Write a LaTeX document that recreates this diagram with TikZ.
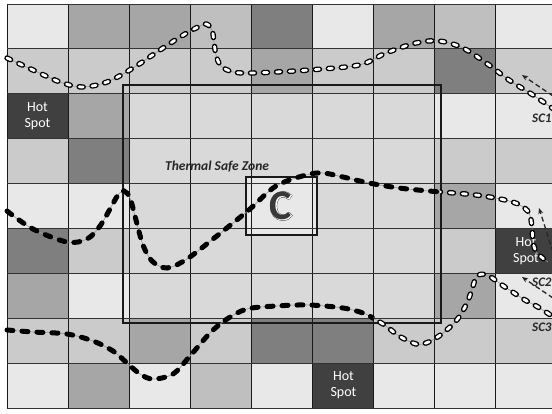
\documentclass[tikz,border=0pt]{standalone}
\usepackage{fontspec}
\setmainfont{Carlito}
\newfontfamily\cfontA[FakeBold=3.5]{Carlito}
\newfontfamily\cfontB[FakeBold=1.8]{Carlito}
\usetikzlibrary{arrows.meta}
\definecolor{cvl}{HTML}{E8E8E8}
\definecolor{clt}{HTML}{CBCBCB}
\definecolor{clm}{HTML}{BFBFBF}
\definecolor{cmd}{HTML}{A6A6A6}
\definecolor{cdk}{HTML}{7F7F7F}
\definecolor{chs}{HTML}{404040}
\definecolor{czn}{HTML}{D9D9D9}
\definecolor{gline}{HTML}{9A9A9A}
\tikzset{
  gridv/.style={draw=black!90, line width=0.9pt},
  gridh/.style={draw=black!80, line width=0.9pt},
  hstext/.style={text=white, align=center, font=\fontsize{14}{16}\selectfont, inner sep=0pt},
  zonebox/.style={draw=black!90, line width=1.3pt},
  cbox/.style={draw=black!90, line width=1.3pt, minimum width=71pt, minimum height=58pt, inner sep=0pt},
  blackdash/.style={draw=gline, line width=0.6pt, postaction={draw=black, line width=5pt, line cap=round, dash pattern=on 6pt off 9pt}},
  whitedash/.style={draw=gline, line width=0.6pt,
     postaction={draw=black, line width=5.4pt, line cap=round, dash pattern=on 4pt off 9pt},
     postaction={draw=white, line width=2.8pt, line cap=round, dash pattern=on 4pt off 9pt}},
  scarrow/.style={draw=black!85, line width=1.3pt, dash pattern=on 5pt off 3pt, -{Stealth[length=6pt,width=5pt]}},
  sclabel/.style={text=black!85, font=\fontsize{13}{15}\selectfont\bfseries\itshape, inner sep=0pt, anchor=west},
  zonelabel/.style={text=black!85, font=\fontsize{13.5}{15}\selectfont\bfseries\itshape, inner sep=0pt, anchor=west}
}
\newcommand\scOne{plot[smooth, tension=0.55] coordinates {(7,58) (33,70) (60,82) (82,87) (107,82) (133,68) (157,52) (180,37) (196,28) (206,24) (212,30) (214,42) (216,55) (221,66) (233,72) (250,73) (276,72) (309,70) (359,65) (386,53) (416,43) (439,41) (463,48) (489,65) (509,80) (533,95) (555,110)}}
\newcommand\scTwo{plot[smooth, tension=0.55] coordinates {(7,211) (33,229) (67,242) (87,239) (100,226) (110,209) (118,195) (124,191) (130,198) (136,220) (143,245) (152,261) (167,268) (187,259) (213,239) (233,223) (250,209) (276,186) (306,175) (323,173) (343,177) (369,183) (399,188) (429,191) (476,195) (505,200) (520,205) (529,213) (532,227) (533,242) (537,253) (548,262)}}
\newcommand\scThree{plot[smooth, tension=0.55] coordinates {(7,330) (33,332) (67,334) (93,341) (113,351) (127,363) (140,374) (153,379) (173,374) (190,356) (210,333) (227,319) (247,309) (276,306) (309,305) (343,308) (363,313) (373,318) (386,326) (399,336) (416,344) (426,343) (439,336) (456,321) (467,303) (473,286) (477,276) (487,275) (505,287) (525,300) (538,307) (555,318)}}
\begin{document}
\begin{tikzpicture}[x=1pt,y=-1pt]
\useasboundingbox (0,0) rectangle (552,413);
\fill[white] (0,0) rectangle (552,413);
% cells
\foreach \r/\cl in {0/{vl,md,md,lm,dk,vl,md,lm,vl},
                    1/{lt,lt,lt,lt,md,lt,lt,dk,lt},
                    2/{hs,md,zn,zn,zn,zn,zn,vl,vl},
                    3/{lt,dk,zn,zn,zn,zn,zn,lt,lt},
                    4/{vl,vl,zn,zn,zn,zn,zn,md,vl},
                    5/{dk,lt,zn,zn,zn,zn,zn,lt,hs},
                    6/{md,vl,zn,zn,zn,zn,zn,md,vl},
                    7/{lt,lt,md,lt,dk,dk,lt,lt,lt},
                    8/{vl,md,vl,lm,vl,hs,vl,vl,vl}}{
  \foreach \cc [count=\i from 0] in \cl {
    \fill[fill=c\cc] ({7+61.1*\i},{4+44.9*\r}) rectangle ++(61.1,44.9);
  }
}
% C box fill
\fill[cvl] (246,177) rectangle (317,235);
% grid
\foreach \c in {0,...,9} \draw[gridv] ({7+61.1*\c},4) -- ({7+61.1*\c},408.1);
\foreach \r in {0,...,9} \draw[gridh] (7,{4+44.9*\r}) -- (557,{4+44.9*\r});
% zone
\draw[zonebox] (123,85) rectangle (441,323);
\node[cbox] (cbox) at (281.5,206) {};
\node[zonelabel] (zlabel) at (165,167) {Thermal Safe Zone};
% C letter
\node[text=black!90, font=\cfontA\bfseries\fontsize{42}{42}\selectfont, inner sep=0pt] (cA) at (281,206) {C};
\node[text=white, font=\cfontB\bfseries\fontsize{42}{42}\selectfont, inner sep=0pt] (cB) at (281,206) {C};
\node[text=black!78, font=\bfseries\fontsize{42}{42}\selectfont, inner sep=0pt] (cC) at (281,206) {C};
% hot spots
\node[hstext] (hs1) at (37.5,116) {Hot\\Spot};
\node[hstext] (hs2) at (526,251) {Hot\\Spot};
\node[hstext] (hs3) at (343.5,385.5) {Hot\\Spot};
% curves
\draw[whitedash] \scOne;
\begin{scope}
  \clip (0,0) rectangle (440,413);
  \draw[blackdash] \scTwo;
\end{scope}
\begin{scope}
  \clip (440,0) rectangle (560,413);
  \draw[whitedash] \scTwo;
\end{scope}
\begin{scope}
  \clip (0,0) rectangle (373,413);
  \draw[blackdash] \scThree;
\end{scope}
\begin{scope}
  \clip (373,0) rectangle (560,413);
  \draw[whitedash] \scThree;
\end{scope}
% arrows
\coordinate (a1t) at (553,96);
\coordinate (a1h) at (522,75);
\coordinate (a2t) at (553,252);
\coordinate (a2h) at (539,208);
\coordinate (a3t) at (553,298);
\coordinate (a3h) at (522,277);
\draw[scarrow] (a1t) -- (a1h);
\draw[scarrow] (a2t) -- (a2h);
\draw[scarrow] (a3t) -- (a3h);
% labels
\node[sclabel] (l1) at (532,118) {SC1};
\node[sclabel] (l2) at (532,282) {SC2};
\node[sclabel] (l3) at (532,327) {SC3};
\end{tikzpicture}
\end{document}
